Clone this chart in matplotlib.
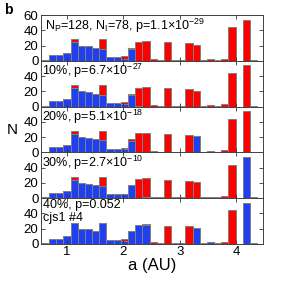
import numpy as np
import matplotlib
matplotlib.use('Agg')
import matplotlib.pyplot as plt

plt.rcParams['font.family'] = ['Liberation Sans', 'DejaVu Sans']
plt.rcParams['mathtext.fontset'] = 'custom'
plt.rcParams['mathtext.rm'] = 'Liberation Sans'
plt.rcParams['mathtext.it'] = 'Liberation Sans:italic'
plt.rcParams['mathtext.bf'] = 'Liberation Sans:bold'

# histogram bins in a (AU)
bin_edges = np.linspace(0.554, 4.373, 31)

# total counts per bin (same in every panel)
total = [1, 7, 7, 10, 28, 20, 19, 17, 28, 5, 5, 6, 17, 25, 26,
         2, 1, 24, 1, 1, 23, 21, 1, 2, 1, 3, 44, 0, 54, 1]

# blue part of each bar, per panel (rest is red)
blue_0 = [0, 7, 7, 10, 24, 20, 19, 17, 15, 5, 5, 3, 15, 0, 0,
          0, 0, 0, 0, 0, 0, 0, 0, 0, 0, 0, 0, 0, 0, 0]
blue_10 = [0, 7, 7, 10, 24, 20, 19, 17, 15, 5, 5, 3, 15, 1, 0,
           0, 0, 0, 0, 0, 0, 0, 0, 0, 0, 0, 0, 0, 0, 0]
blue_20 = [0, 7, 7, 10, 24, 20, 19, 17, 16, 5, 5, 4, 15, 1, 1,
           0, 0, 0, 0, 1, 0, 21, 0, 0, 0, 0, 0, 0, 0, 0]
blue_30 = [0, 7, 7, 10, 24, 20, 19, 17, 16, 5, 5, 5, 17, 0, 1,
           0, 0, 0, 0, 0, 0, 0, 0, 0, 0, 0, 0, 0, 54, 0]
blue_40 = [0, 7, 7, 10, 27, 20, 19, 17, 28, 5, 5, 4, 17, 25, 25,
           0, 0, 0, 1, 1, 0, 21, 1, 2, 1, 0, 0, 0, 54, 1]

blues = [blue_0, blue_10, blue_20, blue_30, blue_40]
labels = [r'N$_\mathrm{P}$=128, N$_\mathrm{I}$=78, p=1.1$\times$10$^{-29}$',
          r'10%, p=6.7$\times$10$^{-27}$',
          r'20%, p=5.1$\times$10$^{-18}$',
          r'30%, p=2.7$\times$10$^{-10}$',
          '40%, p=0.052\ncjs1 #4']

blue_c = '#2040f0'
red_c = '#ff0000'
edge_c = '#808080'

fig = plt.figure(figsize=(2.91, 2.81), dpi=100)
left, width = 40.5 / 291, 222.7 / 291
top_px, h_px = 15, 45.8

total = np.array(total)
widths = np.diff(bin_edges)
axes = []
for i in range(5):
    b = np.array(blues[i])
    r = total - b
    ax = fig.add_axes([left, 1 - (top_px + (i + 1) * h_px) / 281, width, h_px / 281])
    ax.bar(bin_edges[:-1], b, width=widths, align='edge', color=blue_c,
           edgecolor=edge_c, linewidth=0.7)
    ax.bar(bin_edges[:-1], r, width=widths, align='edge', bottom=b, color=red_c,
           edgecolor=edge_c, linewidth=0.7)
    ax.set_xlim(0.53, 4.48)
    ax.set_ylim(0, 60)
    if i == 0:
        ax.set_yticks([0, 20, 40, 60])
    else:
        ax.set_yticks([0, 20, 40])
    ax.set_xticks([1, 2, 3, 4])
    ax.tick_params(direction='in', length=3, width=0.6, labelsize=9.5,
                   top=True, right=True, pad=1.5, colors='#333333',
                   labelcolor='black')
    if i < 4:
        ax.tick_params(labelbottom=False)
    for s in ax.spines.values():
        s.set_linewidth(0.7)
        s.set_color('#404040')
    if i == 0:
        ax.text(0.02, 0.96, labels[i], transform=ax.transAxes, fontsize=9,
                va='top', ha='left')
    elif i < 4:
        ax.text(0.005, 0.97, labels[i], transform=ax.transAxes, fontsize=9,
                va='top', ha='left')
    else:
        ax.text(0.01, 0.98, labels[i], transform=ax.transAxes, fontsize=9,
                va='top', ha='left', linespacing=1.05)
    axes.append(ax)

axes[-1].set_xlabel('a (AU)', fontsize=12, labelpad=0)
fig.text(12 / 291, 1 - 130 / 281, 'N', fontsize=11, ha='center', va='center')
fig.text(4 / 291, 1 - 10 / 281, 'b', fontsize=10, fontweight='bold',
         ha='left', va='center')

fig.savefig('out.png', dpi=100)
